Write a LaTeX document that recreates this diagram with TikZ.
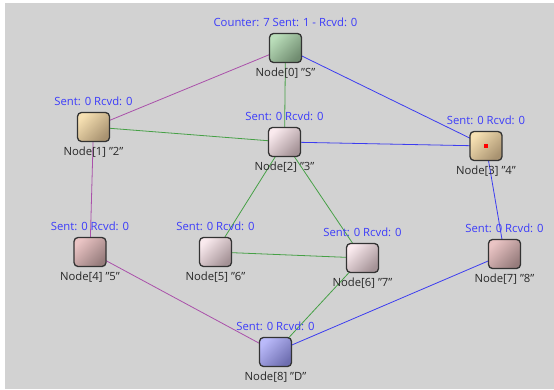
\documentclass[tikz,border=0pt]{standalone}
\usepackage{fontspec}
\setmainfont{Open Sans}
\usetikzlibrary{calc}
\begin{document}
\begin{tikzpicture}[x=1pt,y=-1pt,
  bx/.style={draw=black!80, line width=1.3pt, rounded corners=4pt, minimum width=32pt, minimum height=29pt, inner sep=0pt, shading angle=45},
  tnB/.style={bx, top color={rgb,255:red,246;green,224;blue,178}, bottom color={rgb,255:red,168;green,146;blue,112}, shading angle=45},
  pkB/.style={bx, top color={rgb,255:red,250;green,234;blue,238}, bottom color={rgb,255:red,164;green,146;blue,150}, shading angle=45},
  rsB/.style={bx, top color={rgb,255:red,234;green,196;blue,196}, bottom color={rgb,255:red,150;green,124;blue,124}, shading angle=45},
  lvB/.style={bx, top color={rgb,255:red,186;green,186;blue,250}, bottom color={rgb,255:red,110;green,110;blue,176}, shading angle=45},
  grB/.style={bx, top color={rgb,255:red,186;green,222;blue,186}, bottom color={rgb,255:red,112;green,140;blue,112}, shading angle=45},
  tl/.style={label={[font=\fontsize{11.3}{12}\selectfont, text={rgb,255:red,60;green,60;blue,250}, anchor=center, label distance=11pt]90:#1}},
  bl/.style={label={[font=\fontsize{11.3}{12}\selectfont, text={rgb,255:red,40;green,40;blue,40}, anchor=center, label distance=10pt]-90:#1}},
  pe/.style={draw={rgb,255:red,170;green,80;blue,170}, line width=0.8pt},
  ge/.style={draw={rgb,255:red,70;green,160;blue,70}, line width=0.8pt},
  be/.style={draw={rgb,255:red,60;green,60;blue,240}, line width=0.8pt}
]
\fill[white] (0,0) rectangle (554,389);
\fill[gray!35] (5,3) rectangle (554,389);
\useasboundingbox (0,0) rectangle (554,389);
\coordinate (c0) at (285.5,48);
\coordinate (c1) at (93.5,127);
\coordinate (c2) at (284.5,142);
\coordinate (c3) at (486,146);
\coordinate (c4) at (90,252);
\coordinate (c5) at (215.5,252);
\coordinate (c6) at (362.5,258);
\coordinate (c7) at (504.5,254);
\coordinate (c8) at (275.5,352);
% edges
\draw[pe] (c0) -- (c1);
\draw[ge] (c0) -- (c2);
\draw[be] (c0) -- (c3);
\draw[ge] (c1) -- (c2);
\draw[pe] (c1) -- (c4);
\draw[be] (c2) -- (c3);
\draw[ge] (c2) -- (c5);
\draw[ge] (c2) -- (c6);
\draw[ge] (c5) -- (c6);
\draw[be] (c3) -- (c7);
\draw[pe] (c4) -- (c8);
\draw[ge] (c6) -- (c8);
\draw[be] (c7) -- (c8);
% nodes
\node[grB, tl={Counter: 7 Sent: 1 - Rcvd: 0}, bl={Node[0] "S"}] (n0) at (c0) {};
\node[tnB, tl={Sent: 0 Rcvd: 0}, bl={Node[1] "2"}] (n1) at (c1) {};
\node[pkB, tl={Sent: 0 Rcvd: 0}, bl={Node[2] "3"}] (n2) at (c2) {};
\node[tnB, tl={Sent: 0 Rcvd: 0}, bl={Node[3] "4"}] (n3) at (c3) {};
\node[rsB, tl={Sent: 0 Rcvd: 0}, bl={Node[4] "5"}] (n4) at (c4) {};
\node[pkB, tl={Sent: 0 Rcvd: 0}, bl={Node[5] "6"}] (n5) at (c5) {};
\node[pkB, tl={Sent: 0 Rcvd: 0}, bl={Node[6] "7"}] (n6) at (c6) {};
\node[rsB, tl={Sent: 0 Rcvd: 0}, bl={Node[7] "8"}] (n7) at (c7) {};
\node[lvB, tl={Sent: 0 Rcvd: 0}, bl={Node[8] "D"}] (n8) at (c8) {};
\fill[red] ($(n3.center)+(-2,-2)$) rectangle ($(n3.center)+(2,2)$);
\end{tikzpicture}
\end{document}
